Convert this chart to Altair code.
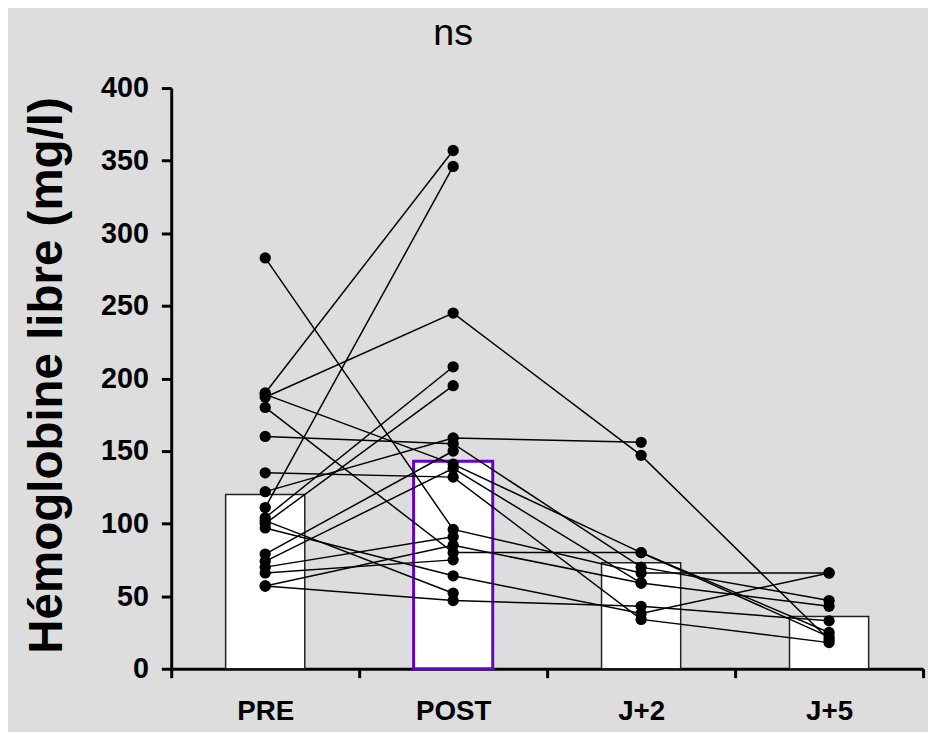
import altair as alt
import pandas as pd

categories = ["PRE", "POST", "J+2", "J+5"]
bar_means = [120, 143, 73, 36]

pre_vals = [283, 187, 190, 189, 180, 160, 135, 122, 111, 104, 100, 97, 102, 79, 74, 70, 66, 57, 57]
post_vals = [96, 245, 357, 141, 80, 155, 132, 159, 346, 208, 195, 64, 52, 150, 138, 91, 75, 85, 47]
j2_vals = [66, 147, None, 80, 80, 70, 34, 156, None, None, None, 38, None, None, 59, None, None, 59, 43]
j5_vals = [66, 20, None, 22, 25, 47, 18, None, None, None, None, 66, None, None, 43, None, None, None, 33]

series = [pre_vals, post_vals, j2_vals, j5_vals]
rows = []
for cat, vals in zip(categories, series):
    for i, v in enumerate(vals):
        if v is not None:
            rows.append({"subject": i, "time": cat, "value": v})
pts = pd.DataFrame(rows)
bars = pd.DataFrame({"time": categories, "value": bar_means})

FONT = "Liberation Sans"

x_enc = alt.X(
    "time:N",
    sort=categories,
    scale=alt.Scale(domain=categories, paddingInner=0, paddingOuter=0),
    axis=alt.Axis(
        title=None,
        labelAngle=0,
        labelFont=FONT,
        labelFontSize=28,
        labelFontWeight="bold",
        labelColor="black",
        labelPadding=20,
        tickBand="extent",
        tickColor="black",
        tickWidth=3,
        tickSize=9,
        domainColor="black",
        domainWidth=3,
    ),
)
y_enc = alt.Y(
    "value:Q",
    scale=alt.Scale(domain=[0, 400], nice=False, zero=True),
    axis=alt.Axis(
        values=list(range(0, 401, 50)),
        grid=False,
        labelFont=FONT,
        labelFontSize=29,
        labelFontWeight="bold",
        labelColor="black",
        labelPadding=13,
        tickColor="black",
        tickWidth=3,
        tickSize=10,
        domainColor="black",
        domainWidth=3,
        title="Hémoglobine libre (mg/l)",
        titleFont=FONT,
        titleFontSize=48,
        titleFontWeight="bold",
        titleColor="black",
        titleAngle=-90,
        titleX=-125,
        titleY=290,
        titleAlign="center",
        titleBaseline="middle",
    ),
)

bar_other = (
    alt.Chart(bars)
    .transform_filter(alt.datum.time != "POST")
    .mark_bar(size=80, fill="white", stroke="#222222", strokeWidth=1.5)
    .encode(x=x_enc, y=y_enc)
)
bar_post = (
    alt.Chart(bars)
    .transform_filter(alt.datum.time == "POST")
    .mark_bar(size=80, fill="white", stroke="#6600cc", strokeWidth=3)
    .encode(x=x_enc, y=y_enc)
)
lines = (
    alt.Chart(pts)
    .mark_line(color="black", strokeWidth=1.5)
    .encode(x=x_enc, y=y_enc, detail="subject:N", order=alt.Order("tidx:Q"))
    .transform_calculate(
        tidx="indexof(['PRE','POST','J+2','J+5'], datum.time)"
    )
)
points = (
    alt.Chart(pts)
    .mark_circle(color="black", size=130, opacity=1)
    .encode(x=x_enc, y=y_enc)
)
title_txt = (
    alt.Chart(pd.DataFrame({"time": ["POST"], "label": ["ns"]}))
    .mark_text(font=FONT, fontSize=38, color="black", baseline="middle", align="center")
    .encode(x=x_enc, y=alt.value(-55), text="label:N")
)

chart = (
    alt.layer(bar_other, bar_post, lines, points, title_txt)
    .properties(
        width=760,
        height=587,
        autosize=alt.AutoSizeParams(type="none"),
        padding={"left": 165, "top": 77, "right": 5, "bottom": 60},
    )
    .configure(background="#dddddd")
    .configure_view(stroke=None)
)

chart.save("out.html", embed_options={"renderer": "svg", "actions": False})
